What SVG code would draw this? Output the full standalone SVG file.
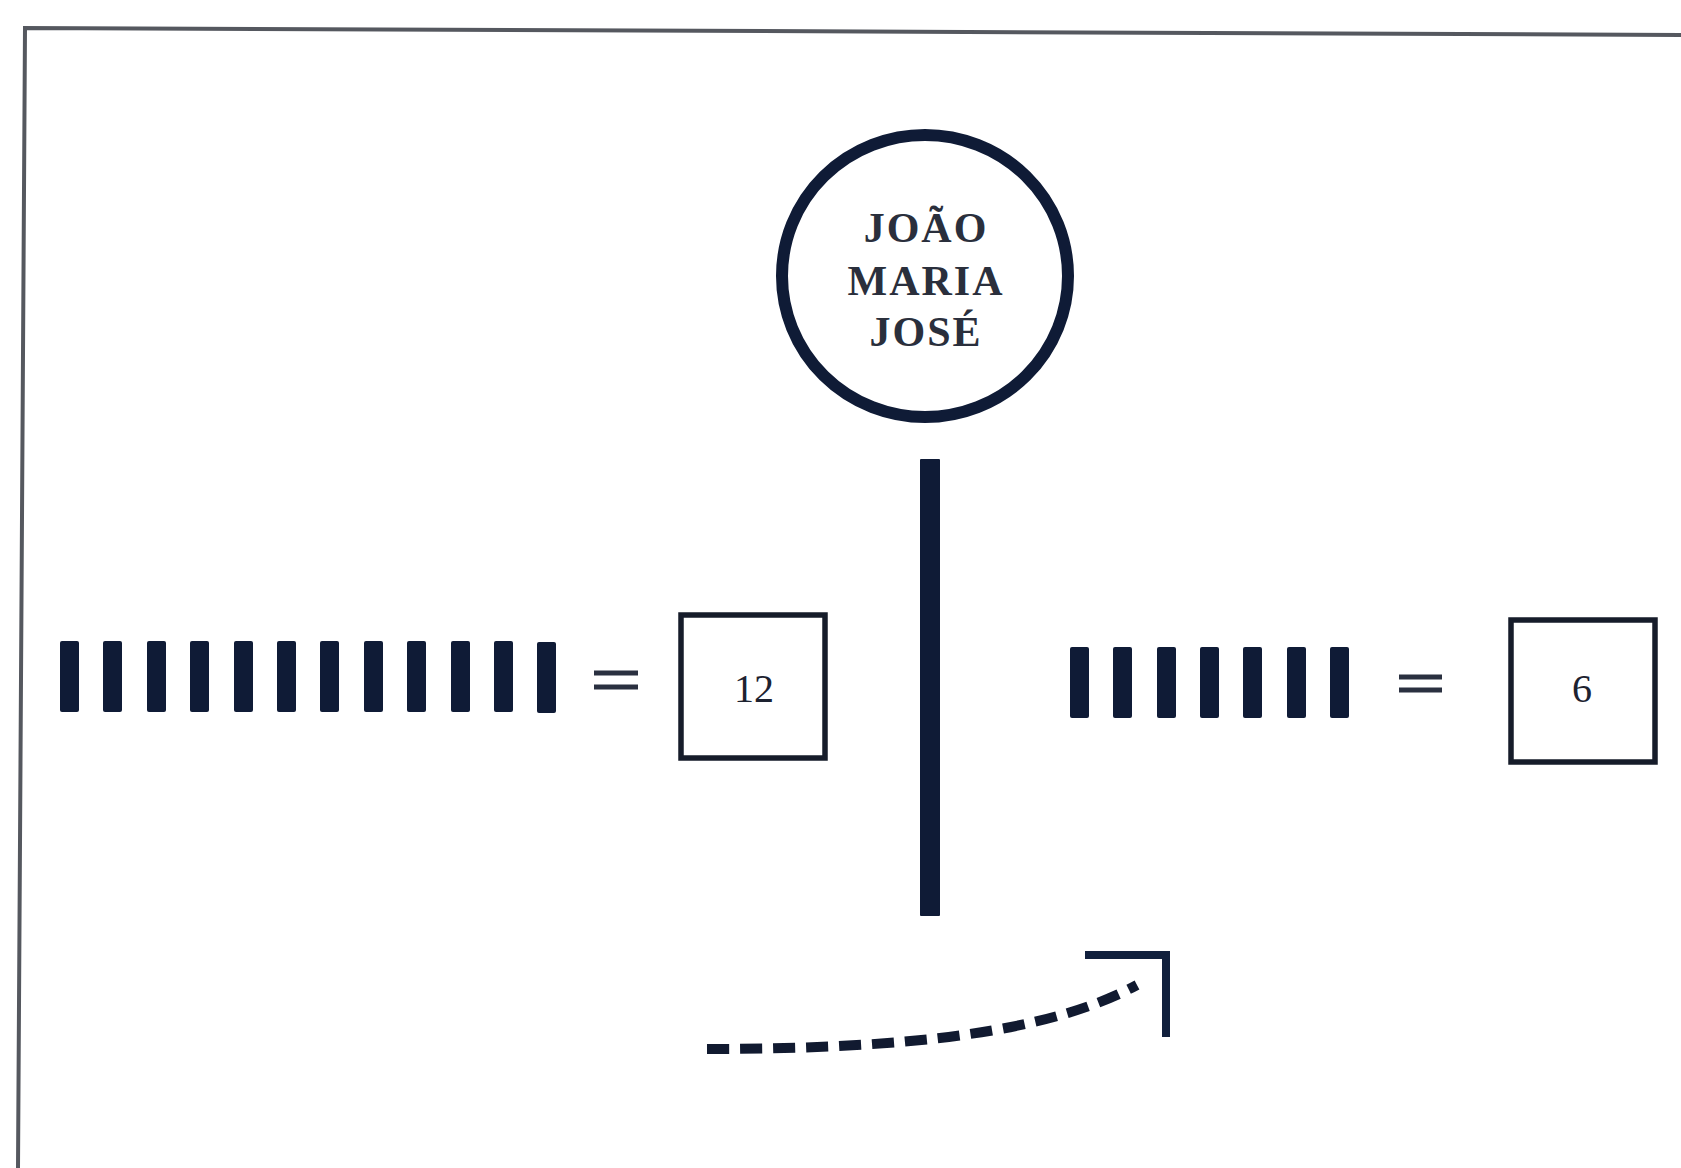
<svg xmlns="http://www.w3.org/2000/svg" width="1681" height="1168" viewBox="0 0 1681 1168">
  <style>
    .ink { fill: #0f1b36; }
    .frame { fill: none; stroke: #55585f; stroke-width: 4; }
    .box { fill: #ffffff; stroke: #161c2a; stroke-width: 5.5; }
    .name { font-family: "Liberation Serif", "Times New Roman", serif; font-weight: bold; font-size: 42px; fill: #2a2f3c; text-anchor: middle; letter-spacing: 2px; }
    .num { font-family: "Liberation Serif", "Times New Roman", serif; font-size: 40px; fill: #1d2230; text-anchor: middle; }
    .eq { stroke: #2a3040; stroke-width: 5; }
    .dash { fill: none; stroke: #111a30; stroke-width: 10; stroke-dasharray: 22 11; }
    .corner { fill: none; stroke: #11203d; stroke-width: 8; stroke-linecap: square; }
  </style>
  <defs>
    <rect id="bar" width="19" height="71" rx="2"/>
  </defs>

  <rect width="1681" height="1168" fill="#ffffff"/>

  <!-- page frame: top and left edges -->
  <polyline class="frame" points="1681,35 25,28 18,1168"/>

  <!-- name circle -->
  <g id="names">
    <ellipse cx="925" cy="276" rx="143" ry="141" fill="none" stroke="#0f1b36" stroke-width="12"/>
    <text class="name" x="926" y="242">JOÃO</text>
    <text class="name" x="926" y="295">MARIA</text>
    <text class="name" x="926" y="346">JOSÉ</text>
  </g>

  <!-- twelve tally bars = 12 -->
  <g id="tally12" class="ink">
    <use href="#bar" x="60" y="641"/>
    <use href="#bar" x="103" y="641"/>
    <use href="#bar" x="147" y="641"/>
    <use href="#bar" x="190" y="641"/>
    <use href="#bar" x="234" y="641"/>
    <use href="#bar" x="277" y="641"/>
    <use href="#bar" x="320" y="641"/>
    <use href="#bar" x="364" y="641"/>
    <use href="#bar" x="407" y="641"/>
    <use href="#bar" x="451" y="641"/>
    <use href="#bar" x="494" y="641"/>
    <use href="#bar" x="537" y="642"/>
  </g>
  <g id="eq12">
    <line class="eq" x1="594" y1="673" x2="638" y2="673"/>
    <line class="eq" x1="594" y1="687" x2="638" y2="687"/>
  </g>
  <g id="box12">
    <rect class="box" x="681" y="615" width="144" height="143"/>
    <text class="num" x="754" y="702">12</text>
  </g>

  <!-- six tally bars = 6 -->
  <g id="tally6" class="ink">
    <use href="#bar" x="1070" y="647"/>
    <use href="#bar" x="1113" y="647"/>
    <use href="#bar" x="1157" y="647"/>
    <use href="#bar" x="1200" y="647"/>
    <use href="#bar" x="1243" y="647"/>
    <use href="#bar" x="1287" y="647"/>
    <use href="#bar" x="1330" y="647"/>
  </g>
  <g id="eq6">
    <line class="eq" x1="1399" y1="677" x2="1442" y2="677"/>
    <line class="eq" x1="1399" y1="690" x2="1442" y2="690"/>
  </g>
  <g id="box6">
    <rect class="box" x="1511" y="620" width="144" height="142"/>
    <text class="num" x="1582" y="702" font-size="34">6</text>
  </g>

  <!-- connectors -->
  <g id="connectors">
    <rect class="ink" x="920" y="459" width="20" height="457" rx="1"/>
    <path class="dash" d="M707,1049 C910,1049 1050,1032 1137,985"/>
    <polyline class="corner" points="1089,955 1166,955 1166,1033"/>
  </g>
</svg>
